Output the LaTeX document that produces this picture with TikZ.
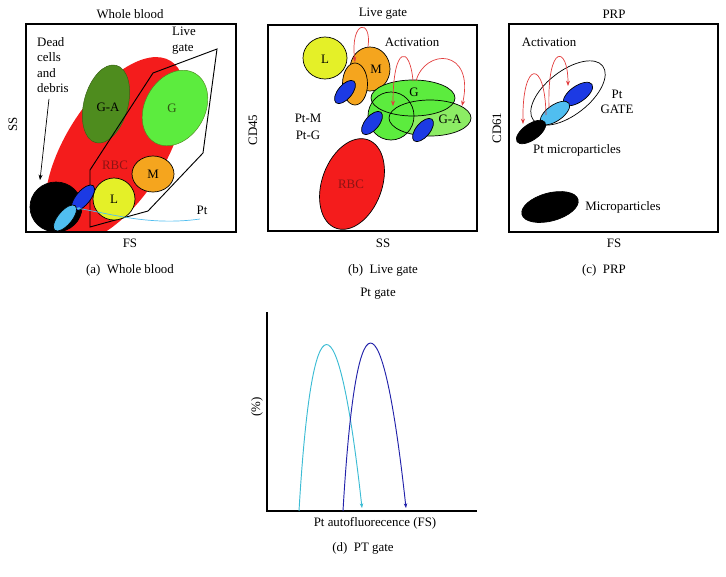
\documentclass[tikz,border=0pt]{standalone}
\usepackage{fontspec}
\setmainfont{Liberation Serif}
\usetikzlibrary{arrows.meta}
\definecolor{rbcred}{RGB}{244,28,28}
\definecolor{rbctxt}{RGB}{140,20,20}
\definecolor{gadark}{RGB}{78,140,30}
\definecolor{gbright}{RGB}{92,236,62}
\definecolor{glight}{RGB}{140,236,100}
\definecolor{mora}{RGB}{245,165,30}
\definecolor{lyel}{RGB}{228,240,40}
\definecolor{pblue}{RGB}{28,58,228}
\definecolor{plight}{RGB}{80,190,240}
\definecolor{actred}{RGB}{226,62,62}
\definecolor{curcyan}{RGB}{60,188,212}
\definecolor{curblue}{RGB}{34,34,170}
\tikzset{%
    frm/.style={line width = 0.9pt},
    cel/.style={draw=black, line width = 0.6pt},
    gat/.style={line width = 0.8pt, line join=miter},
    act/.style={draw=actred, line width = 0.6pt, -{Stealth[scale=0.8]}},
    axs/.style={line width = 1pt},
    crv/.style={line width = 0.8pt, -{Stealth[scale=0.6]}}
}

\begin{document}
\begin{tikzpicture}[x=0.03cm,y=-0.03cm,font=\fontsize{11}{13.2}\selectfont]
    \useasboundingbox (0,0) rectangle (726,576);
    % (a) whole blood
    \begin{scope}
        \clip (26,24) rectangle (236,232);
        \fill [rbcred,rotate around={58:(115,150)}] (115,150) ellipse [x radius=105, y radius=50];
    \end{scope}
    \draw [gadark!70!black,line width=0.4pt,fill=gadark,rotate around={75:(106,104)}] (106,104) ellipse [x radius=40, y radius=22];
    \draw [gadark,line width=0.4pt,fill=gbright,rotate around={60:(175,108)}] (175,108) ellipse [x radius=40, y radius=30];
    \draw [gat] (90,227)--(90,170)--(153,73)--(217,49)--(203,153)--(148,211)--cycle;
    \draw [cel,fill=mora] (153,174) ellipse [x radius=21, y radius=18];
    \draw [cel,fill=lyel] (114,199) ellipse [x radius=21, y radius=21];
    \draw [cel,fill=black] (56,207) ellipse [x radius=26, y radius=25];
    \draw [cel,fill=pblue,rotate around={50:(83,198)}] (83,198) ellipse [x radius=16, y radius=7];
    \draw [cel,fill=plight,rotate around={50:(65,218)}] (65,218) ellipse [x radius=16, y radius=7];
    \draw [frm] (26,24) rectangle (236,232);
    \node (tA) at (130,14) {Whole blood};
    \node [rotate=90] (yA) at (13,124) {SS};
    \node (xA) at (130,243) {FS};
    \node (cA) at (130,270) {(a)\enspace Whole blood};
    \node [align=left,anchor=north west,inner sep=0pt] (dead) at (37,37) {Dead\\cells\\and\\debris};
    \node [align=left,anchor=north west,inner sep=0pt] (live) at (172,27) {Live\\gate};
    \node [text=rbctxt] (rbcA) at (115,165) {RBC};
    \node (gaA) at (108,107) {G-A};
    \node [text=gadark!60!black] (gA) at (172,108) {G};
    \node (mA) at (153,174) {M};
    \node (lA) at (114,199) {L};
    \node (ptA) at (202,210) {Pt};
    \coordinate (deadE) at (40,180);
    \coordinate (ptS) at (200,219);
    \coordinate (ptE) at (76,208);
    \draw [line width=0.6pt,-{Stealth[scale=0.8]}] (dead.south) ++(-4,6) -- (deadE);
    \draw [plight,line width=0.6pt,-{Stealth[scale=0.6]}] (ptS) .. controls (150,226) and (112,214) .. (ptE);
    % (b) live gate
    \draw [cel,fill=lyel] (325,58) ellipse [x radius=22, y radius=21];
    \draw [cel,fill=mora] (370,69) ellipse [x radius=20, y radius=22];
    \draw [cel,fill=mora] (355,84) ellipse [x radius=12.5, y radius=21];
    \draw [cel,fill=pblue,rotate around={50:(345,92)}] (345,92) ellipse [x radius=14, y radius=7];
    \fill [glight] (430,118) ellipse [x radius=41, y radius=18];
    \fill [gbright] (413,98) ellipse [x radius=42, y radius=18];
    \fill [gbright] (391,116) ellipse [x radius=23, y radius=24];
    \draw [cel] (413,98) ellipse [x radius=42, y radius=18];
    \draw [cel] (391,116) ellipse [x radius=23, y radius=24];
    \draw [cel] (430,118) ellipse [x radius=41, y radius=18];
    \draw [cel,fill=pblue,rotate around={50:(372,123)}] (372,123) ellipse [x radius=14, y radius=7];
    \draw [cel,fill=pblue,rotate around={50:(423,130)}] (423,130) ellipse [x radius=14, y radius=7];
    \draw [cel,fill=rbcred,rotate around={70:(352,184)}] (352,184) ellipse [x radius=47, y radius=30];
    \draw [frm] (268,25) rectangle (477,231);
    \node (tB) at (383,14) {Live gate};
    \node [rotate=90] (yB) at (253,130) {CD45};
    \node (xB) at (383,243) {SS};
    \node (cB) at (383,270) {(b)\enspace Live gate};
    \node (lB) at (325,59) {L};
    \node (mB) at (376,69) {M};
    \node (actB) at (412,42) {Activation};
    \node [align=center] (ptB) at (308,127) {Pt-M\\[1pt]Pt-G};
    \node (gB) at (414,92) {G};
    \node (gaB) at (450,119) {G-A};
    \node [text=rbctxt] (rbcB) at (351,184) {RBC};
    \coordinate (mtop) at (368,47);
    \coordinate (mend) at (355,62);
    \coordinate (gtop) at (413,81);
    \coordinate (gend) at (393,106);
    \coordinate (gtop2) at (416,81);
    \coordinate (gaend) at (462,106);
    \draw [act] (mtop) .. controls (372,18) and (350,20) .. (mend);
    \draw [act] (gtop) .. controls (410,45) and (393,45) .. (gend);
    \draw [act] (gtop2) .. controls (425,48) and (475,48) .. (gaend);
    % (c) PRP
    \draw [cel,rotate around={38:(568,93)}] (568,93) ellipse [x radius=44, y radius=22];
    \draw [cel,fill=pblue,rotate around={35:(578,94)}] (578,94) ellipse [x radius=17, y radius=8];
    \draw [cel,fill=plight,rotate around={35:(555,113)}] (555,113) ellipse [x radius=17, y radius=8];
    \draw [cel,fill=black,rotate around={35:(531,132)}] (531,132) ellipse [x radius=17, y radius=8];
    \draw [cel,fill=black,rotate around={15:(550,207)}] (550,207) ellipse [x radius=29, y radius=14];
    \draw [frm] (509,24) rectangle (718,232);
    \node (tC) at (614,14) {PRP};
    \node [rotate=90] (yC) at (497,128) {CD61};
    \node (xC) at (614,243) {FS};
    \node (cC) at (604,270) {(c)\enspace PRP};
    \node (actC) at (549,42) {Activation};
    \node [align=center] (gateC) at (617,102) {Pt\\GATE};
    \node (pmC) at (577,150) {Pt microparticles};
    \node (mpC) at (623,207) {Microparticles};
    \coordinate (lbtop) at (549,108);
    \coordinate (dbend) at (568,86);
    \coordinate (lbtop2) at (546,115);
    \coordinate (bkend) at (523,124);
    \draw [act] (lbtop) .. controls (547,43) and (568,45) .. (dbend);
    \draw [act] (lbtop2) .. controls (545,58) and (522,60) .. (bkend);
    % (d) Pt gate
    \coordinate (dO) at (267,511);
    \coordinate (dY) at (267,312);
    \coordinate (dX) at (477,511);
    \draw [axs] (dY) -- (dO) -- (dX);
    \coordinate (c1) at (299,511);
    \coordinate (c2) at (362,508);
    \coordinate (b1) at (343,511);
    \coordinate (b2) at (406,508);
    \draw [crv,curcyan] (c1) .. controls (312,290) and (338,290) .. (c2);
    \draw [crv,curblue] (b1) .. controls (356,288) and (382,288) .. (b2);
    \node (tD) at (378,294) {Pt gate};
    \node [rotate=90] (yD) at (257,407) {(\%)};
    \node (xD) at (375,523) {Pt autofluorecence (FS)};
    \node (cD) at (363,548) {(d)\enspace PT gate};
\end{tikzpicture}
\end{document}
